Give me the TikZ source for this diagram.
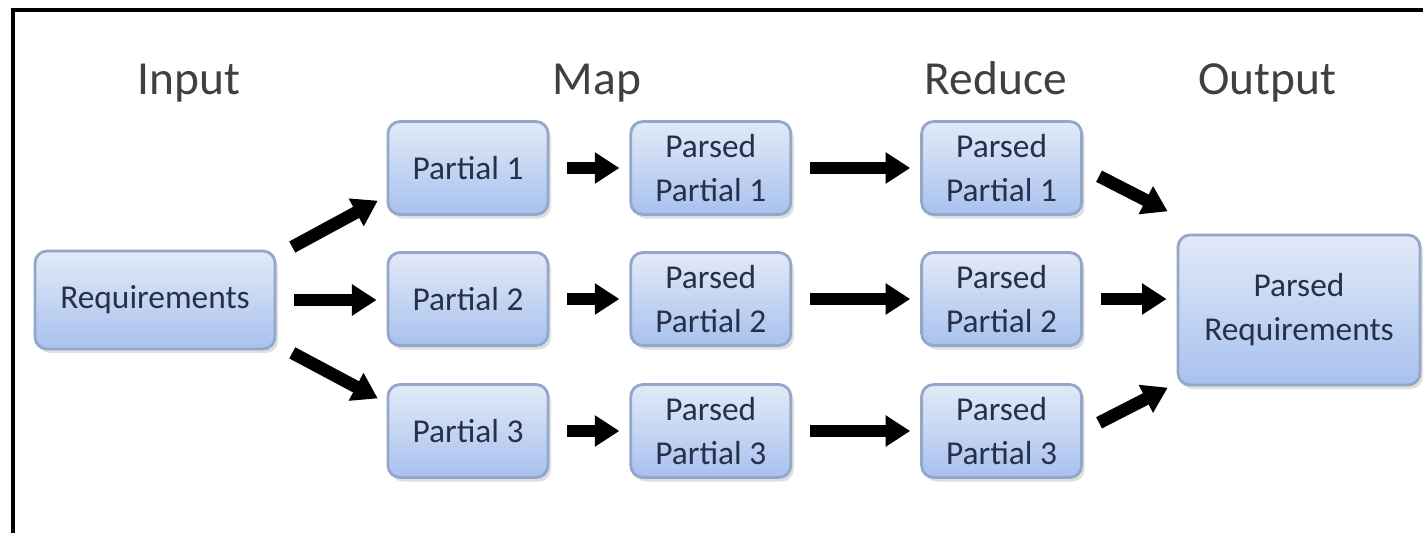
\documentclass[tikz,border=0pt]{standalone}
\usepackage{fontspec}
\setmainfont{Carlito}
\usetikzlibrary{arrows.meta,shadows,positioning}
\definecolor{boxtop}{HTML}{E2EAF8}
\definecolor{boxbottom}{HTML}{A8C1EE}
\definecolor{boxline}{HTML}{93A7CB}
\definecolor{boxtext}{HTML}{26304A}
\definecolor{headtext}{HTML}{404040}
\tikzset{
	stepbox/.style={rounded corners=0.12cm, draw=boxline, thick, top color=boxtop, bottom color=boxbottom,
		drop shadow={opacity=0.25, shadow xshift=0.03cm, shadow yshift=-0.04cm},
		text=boxtext, font=\fontsize{9.5}{12.5}\selectfont, align=center,
		minimum width=1.6cm, minimum height=0.93cm, inner sep=0pt},
	headline/.style={text=headtext, font=\fontsize{13.5}{16}\selectfont, anchor=base},
	bigarrow/.style={line width=3.6pt, -{Triangle[length=7pt, width=8.5pt]}, shorten <=0.18cm, shorten >=0.1cm}
}

\begin{document}
\begin{tikzpicture}
		\useasboundingbox (0,0) rectangle (14.23,5.33);
		% frame
		\draw[line width=1.2pt] (0.13,0) -- (0.13,5.23) -- (14.23,5.23);
		% headings
		\node[headline] (hin) at (1.89,4.39) {Input};
		\node[headline] (hmap) at (5.97,4.39) {Map};
		\node[headline] (hred) at (9.96,4.39) {Reduce};
		\node[headline] (hout) at (12.67,4.39) {Output};
		% input
		\node[stepbox, minimum width=2.4cm, minimum height=0.98cm] (req) at (1.55,2.33) {Requirements};
		% map
		\node[stepbox] (p1) at (4.68,3.65) {Partial 1};
		\node[stepbox] (p2) at (4.68,2.34) {Partial 2};
		\node[stepbox] (p3) at (4.68,1.02) {Partial 3};
		\node[stepbox, right=0.8cm of p1] (q1) {Parsed\\Partial 1};
		\node[stepbox, right=0.8cm of p2] (q2) {Parsed\\Partial 2};
		\node[stepbox, right=0.8cm of p3] (q3) {Parsed\\Partial 3};
		% reduce
		\node[stepbox, right=1.28cm of q1] (r1) {Parsed\\Partial 1};
		\node[stepbox, right=1.28cm of q2] (r2) {Parsed\\Partial 2};
		\node[stepbox, right=1.28cm of q3] (r3) {Parsed\\Partial 3};
		% output
		\node[stepbox, minimum width=2.42cm, minimum height=1.5cm] (out) at (12.99,2.23) {Parsed\\Requirements};
		% arrows
		\draw[bigarrow] ([yshift=-0.06cm]req.north east) -- ([yshift=0.2cm]p1.south west);
		\draw[bigarrow] (req.east) -- (req.east -| p2.west);
		\draw[bigarrow] ([yshift=0.06cm]req.south east) -- ([yshift=-0.2cm]p3.north west);
		\foreach \i in {1,2,3} {
			\draw[bigarrow] (p\i) -- (q\i);
			\draw[bigarrow] (q\i) -- (r\i);
		}
		\draw[bigarrow] (r1.east) -- (out.west |- r1.south);
		\draw[bigarrow] (r2.east) -- (r2.east -| out.west);
		\draw[bigarrow] (r3.east) -- (out.west |- r3.north);
	\end{tikzpicture}
\end{document}
